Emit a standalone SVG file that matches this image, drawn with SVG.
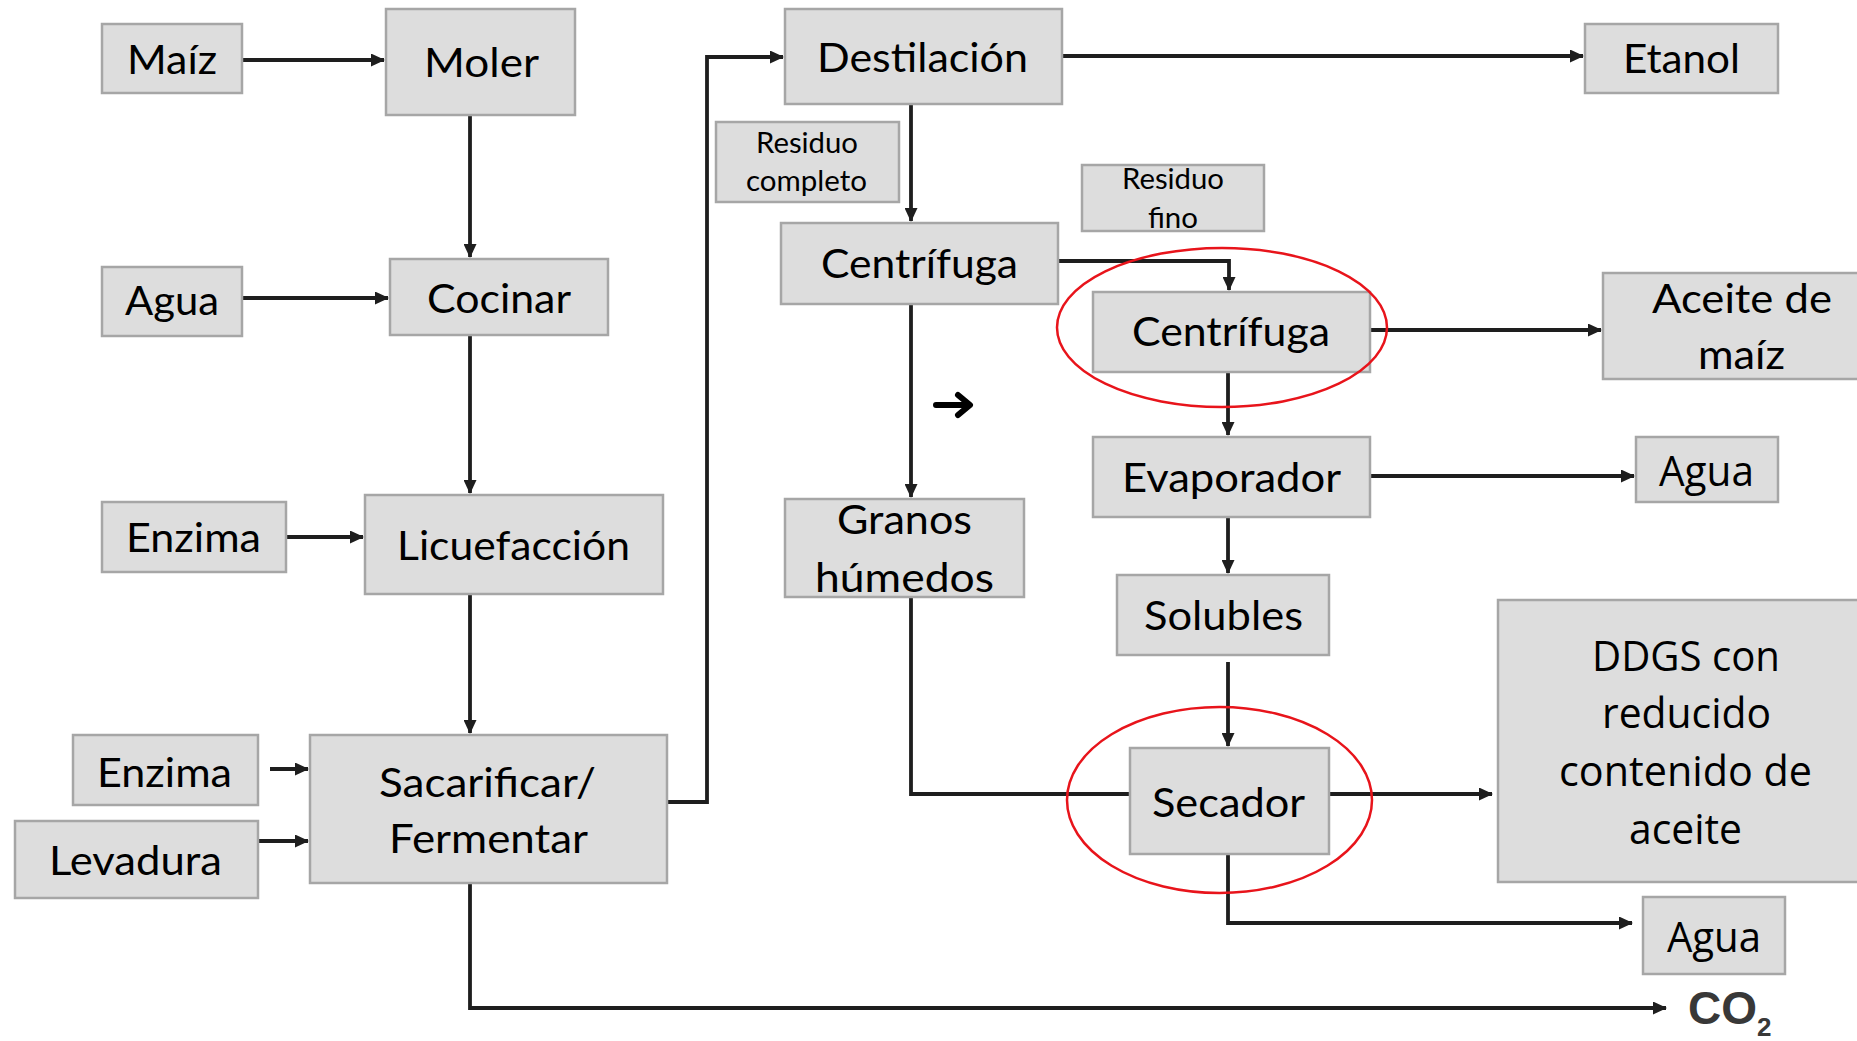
<svg xmlns="http://www.w3.org/2000/svg" width="1857" height="1041" viewBox="0 0 1857 1041">
<style>
.box{fill:#dddddd;stroke:#a6a6a6;stroke-width:2.5}
.t{font-family:Lato,"Liberation Sans",sans-serif;font-size:41px;fill:#000;text-anchor:middle}
.s{font-family:Lato,"Liberation Sans",sans-serif;font-size:28px;fill:#000;text-anchor:middle}
.o{font-family:"Open Sans","DejaVu Sans",sans-serif;font-size:42px;fill:#000;text-anchor:middle}
.c{fill:none;stroke:#1e1e1e;stroke-width:3.8}
.ring{fill:none;stroke:#e8141b;stroke-width:2.5}
</style>
<defs>
<marker id="ah" markerUnits="userSpaceOnUse" markerWidth="14" markerHeight="13" refX="13" refY="6.5" orient="auto">
<path d="M0,0 L14,6.5 L0,13 z" fill="#1e1e1e"/>
</marker>
</defs>
<rect width="1857" height="1041" fill="#ffffff"/>

<g id="connectors">
<path class="c" d="M242,60 H384" marker-end="url(#ah)"/>
<path class="c" d="M242,298 H388" marker-end="url(#ah)"/>
<path class="c" d="M470,115 V257" marker-end="url(#ah)"/>
<path class="c" d="M470,335 V493" marker-end="url(#ah)"/>
<path class="c" d="M286,537 H363" marker-end="url(#ah)"/>
<path class="c" d="M470,594 V733" marker-end="url(#ah)"/>
<path class="c" d="M270,769 H308" marker-end="url(#ah)"/>
<path class="c" d="M258,841 H308" marker-end="url(#ah)"/>
<path class="c" d="M667,802 H707 V57 H783" marker-end="url(#ah)"/>
<path class="c" d="M470,883 V1008 H1666" marker-end="url(#ah)"/>
<path class="c" d="M1062,56 H1583" marker-end="url(#ah)"/>
<path class="c" d="M911,104 V221" marker-end="url(#ah)"/>
<path class="c" d="M1058,261 H1229 V290" marker-end="url(#ah)"/>
<path class="c" d="M911,304 V497" marker-end="url(#ah)"/>
<path class="c" d="M1370,330 H1601" marker-end="url(#ah)"/>
<path class="c" d="M1228,372 V435" marker-end="url(#ah)"/>
<path class="c" d="M1370,476 H1634" marker-end="url(#ah)"/>
<path class="c" d="M1228,517 V573" marker-end="url(#ah)"/>
<path class="c" d="M1228,662 V746" marker-end="url(#ah)"/>
<path class="c" d="M911,597 V794 H1130"/>
<path class="c" d="M1329,794 H1492" marker-end="url(#ah)"/>
<path class="c" d="M1228,854 V923 H1632" marker-end="url(#ah)"/>
<path d="M936,405 H968 M958,395 L970,405 L958,415" fill="none" stroke="#000" stroke-width="6" stroke-linecap="round" stroke-linejoin="round"/>
</g>

<g id="maiz"><rect class="box" x="102" y="24" width="140" height="69"/><text class="t" x="172" y="74" textLength="90" lengthAdjust="spacingAndGlyphs">Maíz</text></g>
<g id="moler"><rect class="box" x="386" y="9" width="189" height="106"/><text class="t" x="481.5" y="77" textLength="115" lengthAdjust="spacingAndGlyphs">Moler</text></g>
<g id="agua-in"><rect class="box" x="102" y="267" width="140" height="69"/><text class="t" x="172" y="315" textLength="94" lengthAdjust="spacingAndGlyphs">Agua</text></g>
<g id="cocinar"><rect class="box" x="390" y="259" width="218" height="76"/><text class="t" x="499" y="313" textLength="144" lengthAdjust="spacingAndGlyphs">Cocinar</text></g>
<g id="enzima1"><rect class="box" x="102" y="502" width="184" height="70"/><text class="t" x="193.5" y="552" textLength="135" lengthAdjust="spacingAndGlyphs">Enzima</text></g>
<g id="licuefaccion"><rect class="box" x="365" y="495" width="298" height="99"/><text class="t" x="513.5" y="560" textLength="233" lengthAdjust="spacingAndGlyphs">Licuefacción</text></g>
<g id="enzima2"><rect class="box" x="73" y="735" width="185" height="70"/><text class="t" x="164.5" y="787" textLength="135" lengthAdjust="spacingAndGlyphs">Enzima</text></g>
<g id="levadura"><rect class="box" x="15" y="821" width="243" height="77"/><text class="t" x="135.5" y="875" textLength="173" lengthAdjust="spacingAndGlyphs">Levadura</text></g>
<g id="sacarificar"><rect class="box" x="310" y="735" width="357" height="148"/><text class="t" x="487.5" y="797" textLength="217" lengthAdjust="spacingAndGlyphs">Sacarificar/</text><text class="t" x="488.5" y="853" textLength="199" lengthAdjust="spacingAndGlyphs">Fermentar</text></g>
<g id="destilacion"><rect class="box" x="785" y="9" width="277" height="95"/><text class="t" x="922.5" y="72" textLength="211" lengthAdjust="spacingAndGlyphs">Destilación</text></g>
<g id="residuo-completo"><rect class="box" x="716" y="122" width="183" height="80"/><text class="s" x="807" y="153" textLength="102" lengthAdjust="spacingAndGlyphs">Residuo</text><text class="s" x="806.5" y="191" textLength="121" lengthAdjust="spacingAndGlyphs">completo</text></g>
<g id="centrifuga1"><rect class="box" x="781" y="223" width="277" height="81"/><text class="t" x="919.5" y="278" textLength="197" lengthAdjust="spacingAndGlyphs">Centrífuga</text></g>
<g id="residuo-fino"><rect class="box" x="1082" y="165" width="182" height="66"/><text class="s" x="1173" y="189" textLength="102" lengthAdjust="spacingAndGlyphs">Residuo</text><text class="s" x="1173" y="228" textLength="50" lengthAdjust="spacingAndGlyphs">fino</text></g>
<g id="centrifuga2"><rect class="box" x="1093" y="292" width="277" height="80"/><text class="t" x="1231" y="346" textLength="198" lengthAdjust="spacingAndGlyphs">Centrífuga</text></g>
<g id="etanol"><rect class="box" x="1585" y="24" width="193" height="69"/><text class="t" x="1681.5" y="73" textLength="117" lengthAdjust="spacingAndGlyphs">Etanol</text></g>
<g id="aceite"><rect class="box" x="1603" y="273" width="260" height="106"/><text class="t" x="1742" y="313" textLength="180" lengthAdjust="spacingAndGlyphs">Aceite de</text><text class="t" x="1741.5" y="369" textLength="87" lengthAdjust="spacingAndGlyphs">maíz</text></g>
<g id="evaporador"><rect class="box" x="1093" y="437" width="277" height="80"/><text class="t" x="1231.5" y="492" textLength="219" lengthAdjust="spacingAndGlyphs">Evaporador</text></g>
<g id="agua-evap"><rect class="box" x="1636" y="437" width="142" height="65"/><text class="o" x="1706.5" y="486" textLength="95" lengthAdjust="spacingAndGlyphs">Agua</text></g>
<g id="granos"><rect class="box" x="785" y="499" width="239" height="98"/><text class="t" x="904.5" y="534" textLength="135" lengthAdjust="spacingAndGlyphs">Granos</text><text class="t" x="904.5" y="592" textLength="179" lengthAdjust="spacingAndGlyphs">húmedos</text></g>
<g id="solubles"><rect class="box" x="1117" y="575" width="212" height="80"/><text class="t" x="1223.5" y="630" textLength="159" lengthAdjust="spacingAndGlyphs">Solubles</text></g>
<g id="secador"><rect class="box" x="1130" y="748" width="199" height="106"/><text class="t" x="1228.5" y="817" textLength="153" lengthAdjust="spacingAndGlyphs">Secador</text></g>
<g id="ddgs"><rect class="box" x="1498" y="600" width="365" height="282"/><text class="o" x="1686" y="671" textLength="188" lengthAdjust="spacingAndGlyphs">DDGS con</text><text class="o" x="1686.5" y="728" textLength="169" lengthAdjust="spacingAndGlyphs">reducido</text><text class="o" x="1685.5" y="786" textLength="253" lengthAdjust="spacingAndGlyphs">contenido de</text><text class="o" x="1685.5" y="844" textLength="113" lengthAdjust="spacingAndGlyphs">aceite</text></g>
<g id="agua-secador"><rect class="box" x="1643" y="897" width="142" height="77"/><text class="o" x="1714" y="952" textLength="94" lengthAdjust="spacingAndGlyphs">Agua</text></g>
<g id="co2"><text x="1688" y="1024" font-family="'Liberation Sans',Arial,sans-serif" font-weight="bold" font-size="46" fill="#383838">CO<tspan font-size="26" dy="12">2</tspan></text></g>

<g id="highlights">
<ellipse class="ring" cx="1222" cy="327.5" rx="165" ry="79.5"/>
<ellipse class="ring" cx="1219.5" cy="800" rx="152.5" ry="93"/>
</g>
</svg>
